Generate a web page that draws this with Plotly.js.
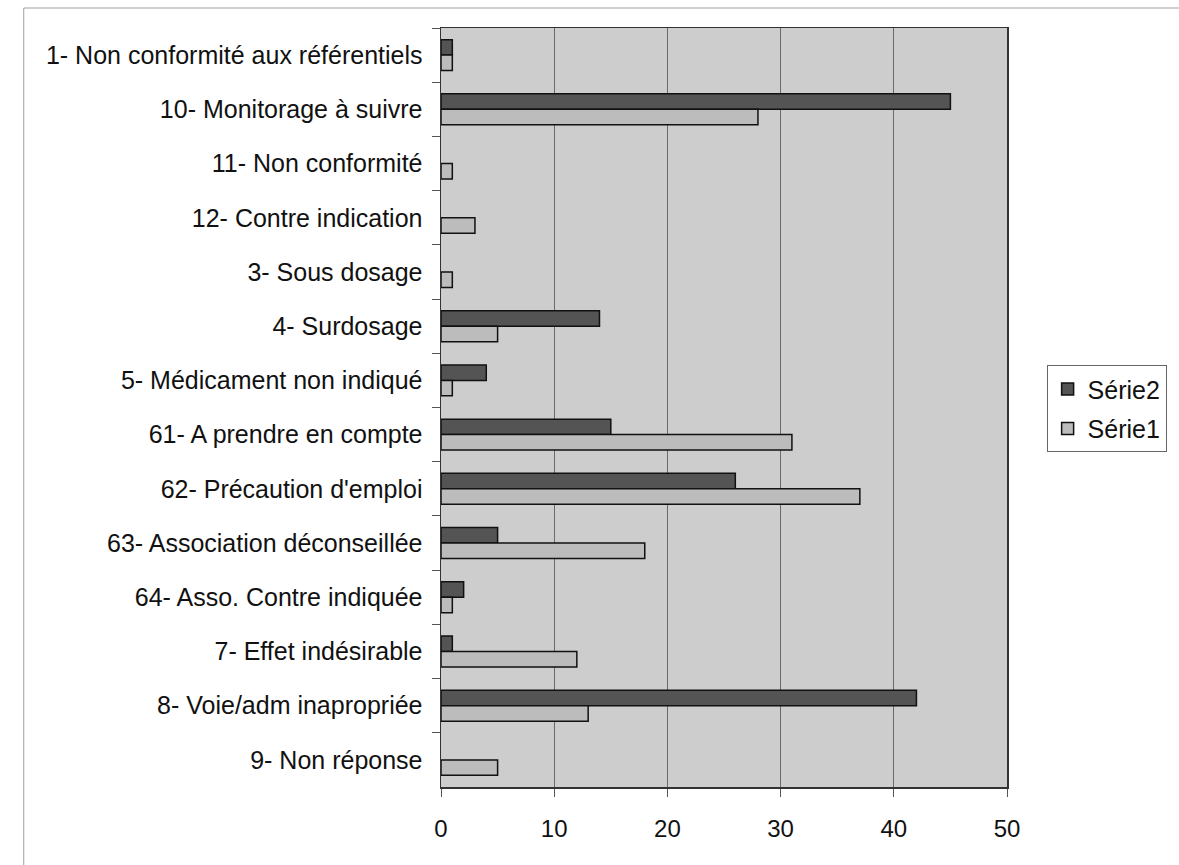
<!DOCTYPE html>
<html>
<head>
<meta charset="utf-8">
<script src="https://cdn.plot.ly/plotly-3.0.1.min.js"></script>
<style>
  html, body { margin: 0; padding: 0; background: #ffffff; }
  #chart { width: 1179px; height: 865px; }
</style>
</head>
<body>
<div id="chart"></div>
<script>
const categories = [
  "1- Non conformité aux référentiels",
  "10- Monitorage à suivre",
  "11- Non conformité",
  "12- Contre indication",
  "3- Sous dosage",
  "4- Surdosage",
  "5- Médicament non indiqué",
  "61- A prendre en compte",
  "62- Précaution d'emploi",
  "63- Association déconseillée",
  "64- Asso. Contre indiquée",
  "7- Effet indésirable",
  "8- Voie/adm inapropriée",
  "9- Non réponse"
];
const serie2 = [1, 45, null, null, null, 14, 4, 15, 26, 5, 2, 1, 42, null];
const serie1 = [1, 28, 1, 3, 1, 5, 1, 31, 37, 18, 1, 12, 13, 5];
const seriesNames = ["Série2", "Série1"];
const xTicks = [0, 10, 20, 30, 40, 50];

const FONT = "Arial, 'Liberation Sans', sans-serif";

const traces = [
  {
    type: "bar", orientation: "h", name: seriesNames[0],
    y: categories, x: serie2, legendgroup: "a",
    marker: { color: "#545454", line: { color: "#111111", width: 1.5 } },
    hoverinfo: "x+y"
  },
  {
    type: "bar", orientation: "h", name: seriesNames[1],
    y: categories, x: serie1, legendgroup: "b",
    marker: { color: "#bcbcbc", line: { color: "#111111", width: 1.5 } },
    hoverinfo: "x+y"
  }
];

const layout = {
  width: 1179, height: 865,
  margin: { l: 441, r: 152, t: 28, b: 78 },
  paper_bgcolor: "#ffffff",
  plot_bgcolor: "#cdcdcd",
  barmode: "group",
  bargap: 0.43,
  bargroupgap: 0,
  font: { family: FONT, size: 25, color: "#111111" },
  xaxis: {
    range: [0, 50],
    tickvals: xTicks,
    ticktext: xTicks.map(String),
    ticks: "outside", ticklen: 8, tickcolor: "#555555", tickwidth: 1,
    showgrid: true, gridcolor: "#6a6a6a", gridwidth: 1,
    showline: true, linecolor: "#333333", linewidth: 1.5, mirror: true,
    zeroline: false,
    tickfont: { family: FONT, size: 24, color: "#111111" },
    ticklabelstandoff: 12,
    fixedrange: true
  },
  yaxis: {
    type: "category",
    autorange: "reversed",
    ticks: "outside", ticklen: 8, tickcolor: "#555555", tickwidth: 1,
    tickson: "boundaries",
    showgrid: false,
    showline: true, linecolor: "#333333", linewidth: 1.5, mirror: true,
    tickfont: { family: FONT, size: 25, color: "#111111" },
    ticklabelstandoff: 12,
    fixedrange: true
  },
  showlegend: true,
  legend: {
    x: 1.07, xanchor: "left",
    y: 0.441, yanchor: "bottom",
    bgcolor: "#ffffff",
    bordercolor: "#666666", borderwidth: 1,
    font: { family: FONT, size: 25, color: "#111111" },
    traceorder: "grouped",
    tracegroupgap: 4
  },
  shapes: [
    {
      type: "rect", xref: "paper", yref: "paper",
      x0: (9 - 441) / 586, x1: (1220 - 441) / 586,
      y0: (787 - 900) / 759, y1: (787 - 8) / 759,
      line: { color: "#a0a0a0", width: 1 },
      fillcolor: "rgba(0,0,0,0)",
      layer: "below"
    }
  ]
};

Plotly.newPlot("chart", traces, layout, { displayModeBar: false, staticPlot: true });
</script>
</body>
</html>
